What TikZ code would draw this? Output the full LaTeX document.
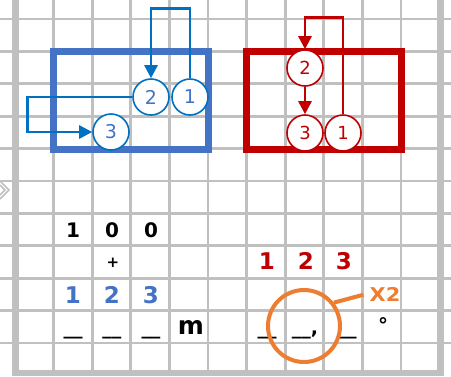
\documentclass[tikz,border=0pt]{standalone}
\usepackage{fontspec}
\setmainfont{DejaVu Sans}
\newfontfamily\widefont[FakeStretch=1.1]{DejaVu Sans}
\usetikzlibrary{arrows.meta}
\definecolor{gridgray}{RGB}{192,192,192}
\definecolor{boxblue}{RGB}{68,114,196}
\definecolor{flowblue}{RGB}{0,112,192}
\definecolor{boxred}{RGB}{192,0,0}
\definecolor{markorange}{RGB}{237,125,49}
\begin{document}
\begin{tikzpicture}[x=1pt,y=-1pt,
  step circle/.style={circle,draw,line width=1.6pt,fill=white,minimum size=36pt,inner sep=0pt,font=\fontsize{19}{19}\selectfont},
  flow/.style={line width=2.6pt,-{Triangle[length=13pt,width=13pt]}},
  digit/.style={font=\fontsize{20}{20}\selectfont\bfseries},
  bigdigit/.style={font=\fontsize{23}{23}\selectfont\bfseries},
  blank/.style={font=\fontsize{19}{19}\selectfont\bfseries,anchor=base}]
\useasboundingbox (0,0) rectangle (451,376);

% squared paper
\foreach \i in {1,...,10}{
  \draw[gridgray,line width=2.7pt] ({15+38.6*\i},0) -- ({15+38.6*\i},373);
}
\foreach \j in {0,...,10}{
  \draw[gridgray,line width=2.7pt] (0,{19+32.4*\j}) -- (451,{19+32.4*\j});
}
\draw[gridgray,line width=7pt] (15,0) -- (15,376);
\draw[gridgray,line width=7pt] (440.5,0) -- (440.5,376);
\draw[gridgray,line width=6pt] (11.5,373) -- (444,373);
\draw[gridgray,line width=1.5pt] (0,181) -- (9,190) -- (0,199);
\draw[gridgray,line width=1.5pt] (0,185) -- (5,190) -- (0,195);

% blue frame with steps
\draw[boxblue,line width=7pt] (53.5,51.5) rectangle (208.5,149.5);
\node[step circle,draw=flowblue,text=boxblue] (b1) at (190,97) {1};
\node[step circle,draw=flowblue,text=boxblue] (b2) at (151,97) {2};
\node[step circle,draw=flowblue,text=boxblue] (b3) at (111,132) {3};
\draw[flow,flowblue] (b1.north) -- ++(0,-70) -| (b2.north);
\draw[flow,flowblue] (b2.west) -- ++(-105,0) |- (b3.west);

% red frame with steps
\draw[boxred,line width=7pt] (246.5,51.5) rectangle (401.5,149.5);
\node[step circle,draw=boxred,text=boxred,font=\fontsize{18}{18}\selectfont] (r2) at (305,68) {2};
\node[step circle,draw=boxred,text=boxred,font=\fontsize{18}{18}\selectfont] (r3) at (305,133) {3};
\node[step circle,draw=boxred,text=boxred,font=\fontsize{18}{18}\selectfont] (r1) at (343,133) {1};
\draw[flow,boxred] (r1.north) -- ++(0,-97) -| (r2.north);
\draw[flow,boxred] (r2.south) -- (r3.north);

% left sum
\node[digit] (h1) at (73,230) {1};
\node[digit] (h2) at (112,230) {0};
\node[digit] (h3) at (151,230) {0};
\node[digit,font=\fontsize{15}{15}\selectfont\bfseries] (plus) at (113,263) {+};
\node[bigdigit,text=boxblue] (s1) at (73,295) {1};
\node[bigdigit,text=boxblue] (s2) at (112,295) {2};
\node[bigdigit,text=boxblue] (s3) at (151,295) {3};
\node[blank] (u1) at (73,334) {\_\_};
\node[blank] (u2) at (112,334) {\_\_};
\node[blank] (u3) at (151,334) {\_\_};
\node[digit,font=\fontsize{25}{25}\selectfont\bfseries] (unit) at (191,327) {m};

% right sum
\node[bigdigit,text=boxred] (t1) at (267,261) {1};
\node[bigdigit,text=boxred] (t2) at (306,261) {2};
\node[bigdigit,text=boxred] (t3) at (344,261) {3};
\node[blank] (v1) at (267,334) {\_\_};
\node[blank] (v2) at (305,334) {\_\_,};
\node[blank] (v3) at (347,334) {\_\_};
\node[digit] (deg) at (383,325) {°};
\node[circle,draw=markorange,line width=4pt,minimum size=72pt] (ring) at (304,326) {};
\node[font=\widefont\fontsize{19}{19}\selectfont\bfseries,text=markorange] (times) at (385,294) {X2};
\draw[markorange,line width=4pt,shorten >=3pt] (ring.38) -- (times.west);
\end{tikzpicture}
\end{document}
